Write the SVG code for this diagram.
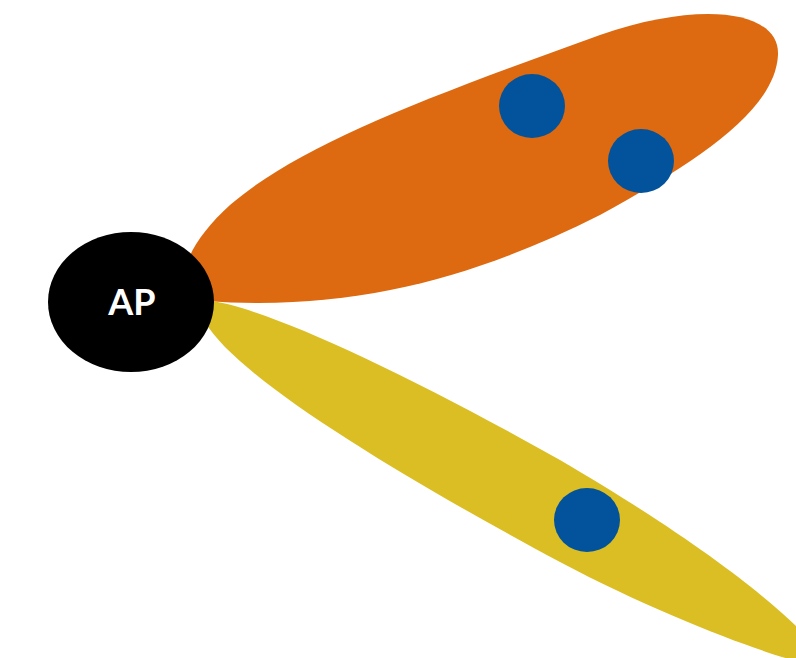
<svg xmlns="http://www.w3.org/2000/svg" width="796" height="658" viewBox="0 0 796 658">
<style>
.sta{fill:#02529C}
.lbl{font-family:Lato,"Open Sans","Liberation Sans",sans-serif;font-weight:bold;font-size:36px;fill:#fff;text-anchor:middle}
</style>
<rect width="796" height="658" fill="#fff"/>
<g id="lobes">
<path id="orange-lobe" fill="#DD6A10" d="M205,301 C170,295 180,250 230,205 C300,145 420,100 600,35 C700,0 780,10 778,55 C775,110 700,160 600,215 C480,275 360,312 205,301 Z"/>
<path id="yellow-lobe" fill="#DBBE24" d="M205,300 C260,305 400,370 560,460 C680,530 760,590 800,630 L800,662 C760,652 660,615 560,562 C420,487 240,382 205,322 Z"/>
</g>
<g id="sta1"><ellipse class="sta" cx="532" cy="106" rx="33" ry="32"/></g>
<g id="sta2"><ellipse class="sta" cx="641" cy="161" rx="33" ry="32"/></g>
<g id="sta3"><ellipse class="sta" cx="587" cy="520" rx="33" ry="32"/></g>
<g id="ap">
<ellipse cx="131" cy="302" rx="83" ry="70" fill="#000"/>
<text class="lbl" x="132" y="315">AP</text>
</g>
</svg>
